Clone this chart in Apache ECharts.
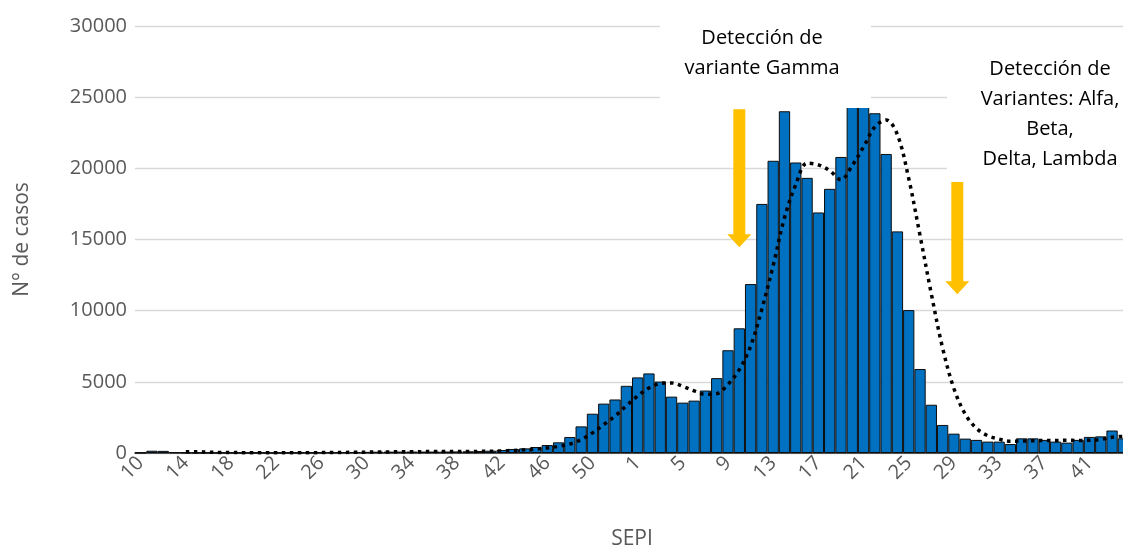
<!DOCTYPE html>
<html>
<head>
<meta charset="utf-8">
<script src="https://cdn.jsdelivr.net/npm/echarts@6/dist/echarts.min.js"></script>
<style>
  html, body { margin: 0; padding: 0; background: #fff; }
  .myChart { width: 1123px; height: 549px; }
</style>
</head>
<body>
<div class="myChart" id="myEchart"></div>
<script>
// semanas epidemiologicas: 2020 (10-53) y 2021 (1-44)
const semanas = ['10','11','12','13','14','15','16','17','18','19','20','21','22','23','24','25','26','27','28','29','30','31','32','33','34','35','36','37','38','39','40','41','42','43','44','45','46','47','48','49','50','51','52','53',
  '1','2','3','4','5','6','7','8','9','10','11','12','13','14','15','16','17','18','19','20','21','22','23','24','25','26','27','28','29','30','31','32','33','34','35','36','37','38','39','40','41','42','43','44']

const casos = [20,160,150,60,40,30,30,25,25,20,20,20,20,20,25,30,40,50,60,70,80,90,95,100,100,100,100,105,110,120,140,160,210,280,325,420,560,750,1120,1870,2760,3470,3760,4720,
  5310,5590,5020,3960,3540,3680,4390,5260,7220,8760,11870,17500,20530,24010,20410,19330,16900,18560,20800,25400,25900,23870,21010,15570,10040,5900,3390,1970,1360,1010,920,800,800,630,1030,1030,920,800,730,920,1130,1170,1580,1030]

// linea punteada (media movil)
const tendencia = ['-','-','-','-',86,88,62,37,30,26,24,22,21,20,21,23,27,33,41,50,60,70,79,87,93,97,99,101,103,107,115,127,148,182,223,279,359,467,635,944,1412,1994,2596,3316,
  4000,4570,4880,4920,4680,4360,4120,4170,4820,5860,7500,10120,13180,16530,18860,20360,20240,19840,19200,20200,21510,22910,23400,22350,19280,15280,11180,7370,4530,2730,1730,1210,980,830,840,860,880,880,900,880,900,950,1110,1170]

const ticksY = [0, 5000, 10000, 15000, 20000, 25000, 30000]

// flechas de deteccion de variantes (posicion en categoria, valores de inicio y punta)
const flechas = [
  { pos: 53, desde: 24150, hasta: 14460 },
  { pos: 72.3, desde: 19170, hasta: 11160 }
]

const notas = [
  { texto: 'Detección de\nvariante Gamma', x: 762, y: 53, caja: [660, 6, 211, 102] },
  { texto: 'Detección de\nVariantes: Alfa,\nBeta,\nDelta, Lambda', x: 1050, y: 114, caja: [947, 50, 180, 132] }
]

const fuente = '"Open Sans", sans-serif'

let myChart = echarts.init(document.getElementById('myEchart'))
myChart.setOption({
  animation: false,
  grid: { left: 135, right: -6, top: 26, bottom: 96, outerBoundsMode: 'none', containLabel: false },
  xAxis: {
    type: 'category',
    data: semanas,
    name: 'SEPI',
    nameLocation: 'middle',
    nameGap: 76,
    nameTextStyle: { color: '#595959', fontSize: 21, fontFamily: fuente },
    axisLine: { lineStyle: { color: '#262626', width: 1.5 } },
    axisTick: { show: false },
    axisLabel: { interval: 3, rotate: 45, margin: 7, color: '#595959', fontSize: 20, fontFamily: fuente }
  },
  yAxis: {
    type: 'value',
    min: 0,
    max: 30000,
    interval: 5000,
    name: 'N° de casos',
    nameLocation: 'middle',
    nameGap: 102,
    nameTextStyle: { color: '#595959', fontSize: 21, fontFamily: fuente },
    axisLine: { show: false },
    axisTick: { show: false },
    axisLabel: { margin: 8, color: '#595959', fontSize: 20, fontFamily: fuente,
      formatter: (v) => ticksY.includes(v) ? String(v) : '' },
    splitLine: { lineStyle: { color: '#d9d9d9', width: 1.3 } }
  },
  series: [
    {
      name: 'Casos',
      type: 'bar',
      data: casos,
      barCategoryGap: '0%',
      itemStyle: { color: '#0070C0', borderColor: '#0d0d0d', borderWidth: 1 }
    },
    {
      name: 'Media móvil',
      type: 'line',
      data: tendencia,
      smooth: 0.35,
      showSymbol: false,
      z: 5,
      lineStyle: { color: '#000', width: 3.5, type: [3.5, 4.5], cap: 'butt' }
    }
  ]
})

// anotaciones: flechas ancladas a los ejes, cajas de texto con fondo blanco
const graficos = []
flechas.forEach((f) => {
  const i = Math.floor(f.pos)
  const x0 = myChart.convertToPixel({ xAxisIndex: 0 }, i)
  const x1 = myChart.convertToPixel({ xAxisIndex: 0 }, i + 1)
  const x = x0 + (x1 - x0) * (f.pos - i)
  const y1 = myChart.convertToPixel({ yAxisIndex: 0 }, f.desde)
  const y2 = myChart.convertToPixel({ yAxisIndex: 0 }, f.hasta)
  graficos.push({
    type: 'polygon',
    z: 100,
    shape: { points: [[x - 6, y1], [x + 6, y1], [x + 6, y2 - 13], [x + 12, y2 - 13], [x, y2], [x - 12, y2 - 13], [x - 6, y2 - 13]] },
    style: { fill: '#FFC000' }
  })
})
notas.forEach((n) => {
  graficos.push({
    type: 'rect',
    z: 100,
    shape: { x: n.caja[0], y: n.caja[1], width: n.caja[2], height: n.caja[3] },
    style: { fill: '#fff' }
  })
  graficos.push({
    type: 'text',
    z: 101,
    x: n.x,
    y: n.y,
    style: { text: n.texto, fill: '#000', font: '20px ' + fuente, align: 'center', verticalAlign: 'middle', lineHeight: 30 }
  })
})
myChart.setOption({ graphic: graficos })

window.onresize = function () {
  myChart.resize();
};
</script>
</body>
</html>
